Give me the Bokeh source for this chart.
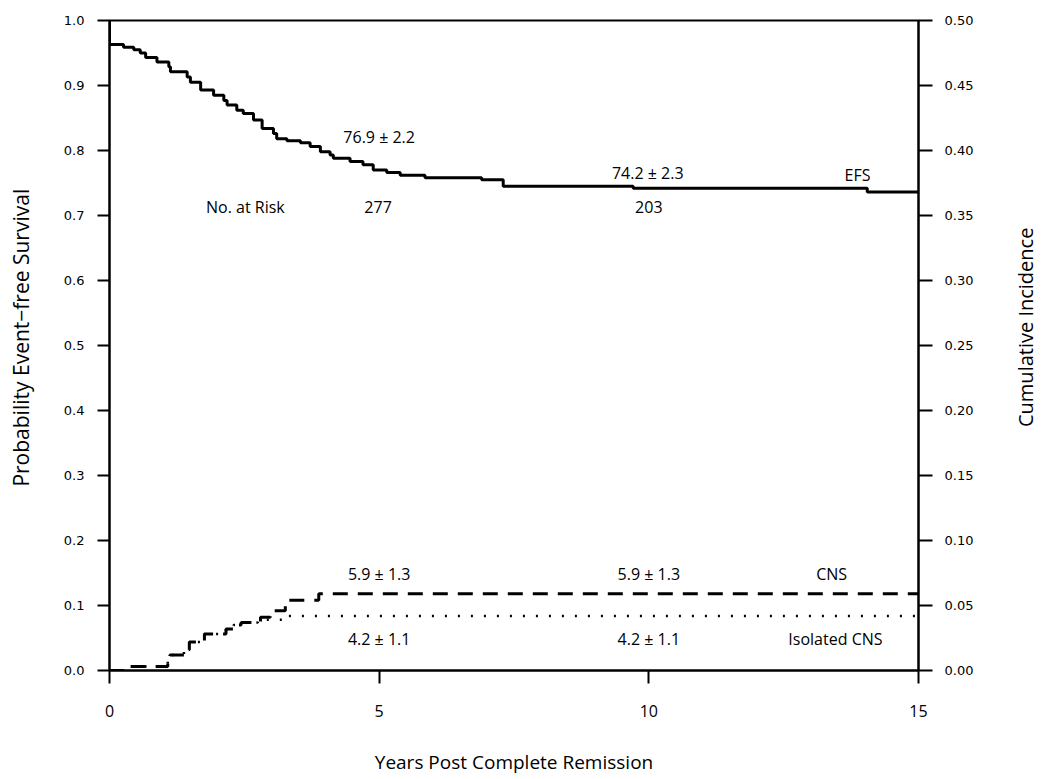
import math
from bokeh.plotting import figure
from bokeh.models import Range1d, LinearAxis, FixedTicker, PrintfTickFormatter, ColumnDataSource, Label
from bokeh.core.properties import value
from bokeh.embed import file_html
from bokeh.resources import INLINE

# Event-free survival (Kaplan-Meier, left axis)
efs_t = [0.0, 0.0, 0.26, 0.45, 0.57, 0.67, 0.88, 1.10, 1.13, 1.44, 1.50, 1.69, 1.93, 2.12, 2.18,
         2.36, 2.48, 2.67, 2.83, 3.04, 3.10, 3.29, 3.54, 3.72, 3.91, 4.09, 4.15, 4.46, 4.70, 4.89,
         5.14, 5.39, 5.85, 6.90, 7.30, 9.71, 14.05, 15.0]
efs_v = [1.0, 0.963, 0.959, 0.955, 0.950, 0.943, 0.936, 0.929, 0.921, 0.913, 0.905, 0.893, 0.885, 0.877, 0.870,
         0.862, 0.857, 0.847, 0.834, 0.826, 0.818, 0.815, 0.812, 0.806, 0.798, 0.793, 0.788, 0.783, 0.778, 0.770,
         0.766, 0.762, 0.758, 0.755, 0.745, 0.742, 0.736, 0.736]

# Cumulative incidence of CNS relapse (right axis)
cns_t = [0.0, 0.27, 1.08, 1.12, 1.38, 1.48, 1.76, 2.16, 2.30, 2.44, 2.80, 2.98, 3.26, 3.88, 15.0]
cns_v = [0.0, 0.003, 0.007, 0.012, 0.016, 0.022, 0.028, 0.032, 0.035, 0.037, 0.041, 0.046, 0.054, 0.059, 0.059]

# Cumulative incidence of isolated CNS relapse (right axis)
iso_t = [0.0, 0.27, 1.08, 1.12, 1.38, 1.48, 1.76, 2.16, 2.30, 2.44, 2.75, 3.23, 15.0]
iso_v = [0.0, 0.003, 0.007, 0.012, 0.016, 0.022, 0.028, 0.032, 0.035, 0.037, 0.039, 0.042, 0.042]

x_ticks = [0, 5, 10, 15]
left_ticks = [0.0, 0.1, 0.2, 0.3, 0.4, 0.5, 0.6, 0.7, 0.8, 0.9, 1.0]
right_ticks = [0.0, 0.05, 0.10, 0.15, 0.20, 0.25, 0.30, 0.35, 0.40, 0.45, 0.50]

# Annotations (x in years, y on left-axis scale)
ann_text = ["76.9 \u00b1 2.2", "No. at Risk", "277", "74.2 \u00b1 2.3", "203", "EFS",
            "5.9 \u00b1 1.3", "5.9 \u00b1 1.3", "CNS", "4.2 \u00b1 1.1", "4.2 \u00b1 1.1", "Isolated CNS"]
ann_x = [5.0, 2.52, 4.98, 9.98, 10.0, 13.87, 5.0, 10.0, 13.39, 5.0, 10.0, 13.46]
ann_y = [0.8205, 0.713, 0.713, 0.765, 0.713, 0.762, 0.149, 0.149, 0.149, 0.049, 0.049, 0.049]

FONT = "Open Sans"
TICKFONT = "DejaVu Sans"

p = figure(width=1046, height=777, x_range=Range1d(0, 15), y_range=Range1d(0, 1),
           output_backend="svg", toolbar_location=None,
           min_border_left=109, min_border_right=128, min_border_top=20, min_border_bottom=105)
p.extra_y_ranges = {"ci": Range1d(0, 0.5)}
p.grid.visible = False
p.outline_line_color = "black"
p.outline_line_width = 2
p.background_fill_color = "white"
p.border_fill_color = "white"

def style_axis(ax):
    ax.axis_line_width = 2
    ax.axis_line_color = "black"
    ax.major_tick_line_width = 2
    ax.major_tick_line_color = "black"
    ax.major_tick_in = 0
    ax.minor_tick_line_color = None
    ax.major_label_text_color = "black"
    ax.axis_label_text_color = "black"
    ax.axis_label_text_font = FONT
    ax.axis_label_text_font_style = "normal"

xa = p.xaxis[0]
style_axis(xa)
xa.ticker = FixedTicker(ticks=x_ticks)
xa.major_tick_out = 13
xa.major_label_standoff = 21
xa.major_label_text_font = FONT
xa.major_label_text_font_size = "16px"
xa.axis_label = "Years Post Complete Remission"
xa.axis_label_text_font_size = "19px"
xa.axis_label_standoff = 29

ya = p.yaxis[0]
style_axis(ya)
ya.ticker = FixedTicker(ticks=left_ticks)
ya.formatter = PrintfTickFormatter(format="%.1f")
ya.major_tick_out = 12
ya.major_label_standoff = 13
ya.major_label_text_font = TICKFONT
ya.major_label_text_font_size = "13px"

ra = LinearAxis(y_range_name="ci")
style_axis(ra)
ra.ticker = FixedTicker(ticks=right_ticks)
ra.formatter = PrintfTickFormatter(format="%.2f")
ra.major_tick_out = 14
ra.major_label_standoff = 12
ra.major_label_text_font = TICKFONT
ra.major_label_text_font_size = "13px"
p.add_layout(ra, "right")

# vertical axis titles, reading bottom to top (placed in side panels so they are not clipped)
p.add_layout(Label(x=0, y=0.512, x_offset=-89, text="Probability Event\u2212free Survival",
                   angle=math.pi / 2, text_font=FONT, text_font_size="21px", text_align="center",
                   text_baseline="middle", text_color="black"), "left")
p.add_layout(Label(x=15, y=0.528, x_offset=107, text="Cumulative Incidence", angle=math.pi / 2,
                   text_font=FONT, text_font_size="20px", text_align="center",
                   text_baseline="middle", text_color="black"), "right")

p.step(efs_t, efs_v, mode="after", line_color="black", line_width=3)
p.step(iso_t, iso_v, mode="after", line_color="black", line_width=2.5, line_dash="2 11",
       y_range_name="ci")
p.step(cns_t, cns_v, mode="after", line_color="black", line_width=3, line_dash="15 10",
       y_range_name="ci")

src = ColumnDataSource(dict(x=ann_x, y=ann_y, text=ann_text))
p.text(x="x", y="y", text="text", source=src, text_font=value(FONT), text_font_size="16px",
       text_align="center", text_baseline="middle", text_color="black")

open("out.html", "w").write(file_html(p, INLINE))
